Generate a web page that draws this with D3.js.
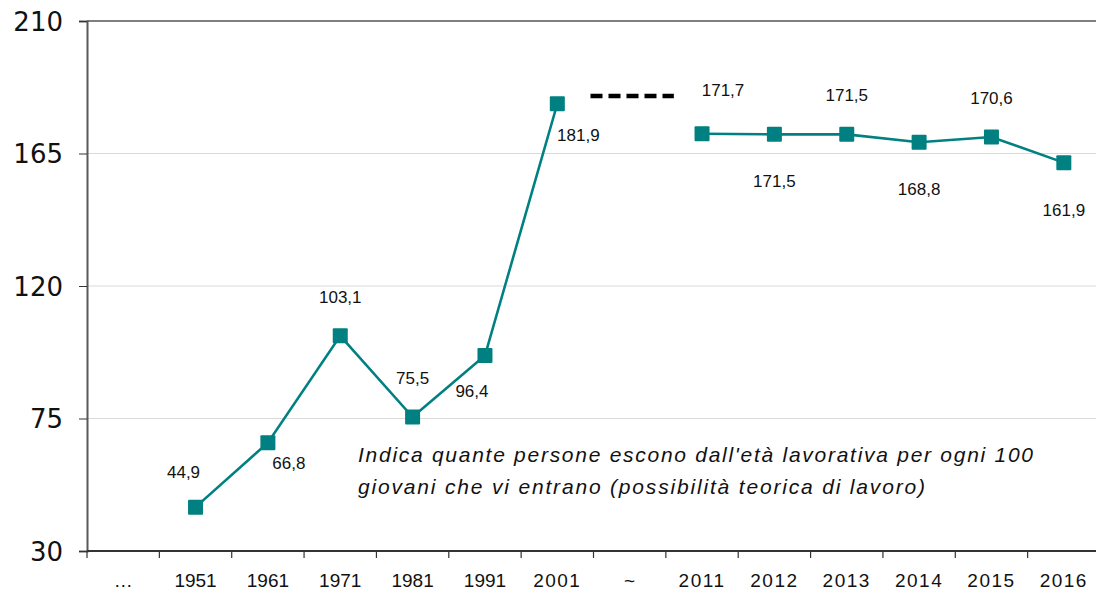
<!DOCTYPE html>
<html>
<head>
<meta charset="utf-8">
<script src="https://cdn.jsdelivr.net/npm/d3@7"></script>
<style>
  body { margin: 0; background: #fff; }
  svg { display: block; }
</style>
</head>
<body>
<div id="canvas"><svg width="1096" height="593"></svg></div>
<script>
// categories on the x axis ("…" and "~" are empty slots)
var categories = ["…", "1951", "1961", "1971", "1981", "1991", "2001", "~",
                  "2011", "2012", "2013", "2014", "2015", "2016"];
// first segment: census years
var censusYears = ["1951", "1961", "1971", "1981", "1991", "2001"];
var censusValues = [44.9, 66.8, 103.1, 75.5, 96.4, 181.9];
// second segment: yearly
var recentYears = ["2011", "2012", "2013", "2014", "2015", "2016"];
var recentValues = [171.7, 171.5, 171.5, 168.8, 170.6, 161.9];
// where each value label sits relative to its marker
var censusLabelPos = ["ul", "dr", "u", "u", "dl", "drl"];
var recentLabelPos = ["ur", "d", "u", "d", "u", "d"];
var yTicks = [30, 75, 120, 165, 210];
var breakLevel = 184.5; // dashed break mark between 2001 and 2011
var note = ["Indica quante persone escono dall'età lavorativa per ogni 100",
            "giovani che vi entrano (possibilità teorica di lavoro)"];

var svg = d3.select("#canvas svg"),
    pLeft = 87, pRight = 1100, pTop = 21, pBottom = 551,
    teal = "#008080";

var x = d3.scaleBand().domain(categories).range([pLeft, pRight]);
var y = d3.scaleLinear().domain([30, 210]).range([pBottom, pTop]);

// gridlines
svg.selectAll(".grid")
  .data(yTicks.filter(function (d) { return d > 30 && d < 210; }))
  .enter().append("line")
  .attr("x1", pLeft).attr("x2", 1096)
  .attr("y1", function (d) { return y(d); })
  .attr("y2", function (d) { return y(d); })
  .attr("stroke", "#d9d9d9").attr("stroke-width", 1.2);

// top border
svg.append("line")
  .attr("x1", pLeft).attr("x2", 1096)
  .attr("y1", y(210)).attr("y2", y(210))
  .attr("stroke", "#808080").attr("stroke-width", 2);

// y axis
var yAxis = svg.append("g")
  .attr("transform", "translate(" + pLeft + ",0)")
  .call(d3.axisLeft(y).tickValues(yTicks).tickSize(8).tickPadding(16));
yAxis.select(".domain").attr("stroke", "#595959").attr("stroke-width", 2);
yAxis.selectAll(".tick line").attr("stroke", "#333");
yAxis.selectAll("text")
  .attr("font-family", "'DejaVu Sans', Verdana, sans-serif")
  .attr("font-size", 26).attr("fill", "#111").attr("dy", "0.36em");

// x axis: ticks between categories
svg.append("line")
  .attr("x1", pLeft).attr("x2", 1096)
  .attr("y1", pBottom).attr("y2", pBottom)
  .attr("stroke", "#333").attr("stroke-width", 2);
svg.selectAll(".xtick")
  .data(categories)
  .enter().append("line")
  .attr("x1", function (d) { return x(d); })
  .attr("x2", function (d) { return x(d); })
  .attr("y1", pBottom).attr("y2", pBottom + 7)
  .attr("stroke", "#333").attr("stroke-width", 1.2);
svg.selectAll(".xlabel")
  .data(categories)
  .enter().append("text")
  .attr("x", function (d) { return x(d) + x.bandwidth() / 2; })
  .attr("y", 587)
  .attr("text-anchor", "middle")
  .attr("font-family", "'Liberation Sans', Arial, sans-serif")
  .attr("font-size", 19).attr("fill", "#111")
  .attr("letter-spacing", function (d) { return d.charAt(0) === "2" ? 1.5 : 0; })
  .text(function (d) { return d; });

// dashed break mark
svg.append("line")
  .attr("x1", x("~") - 3).attr("x2", x("~") + x.bandwidth() + 8)
  .attr("y1", y(breakLevel)).attr("y2", y(breakLevel))
  .attr("stroke", "#000").attr("stroke-width", 4.5)
  .attr("stroke-dasharray", "12,6");

var line = d3.line()
  .x(function (d) { return x(d.cat) + x.bandwidth() / 2; })
  .y(function (d) { return y(d.v); });

function drawSeries(cats, vals, pos) {
  var pts = cats.map(function (c, i) { return { cat: c, v: vals[i], pos: pos[i] }; });
  svg.append("path").datum(pts)
    .attr("d", line)
    .attr("fill", "none").attr("stroke", teal).attr("stroke-width", 2.6);
  svg.selectAll(null).data(pts).enter().append("rect")
    .attr("x", function (d) { return x(d.cat) + x.bandwidth() / 2 - 7.5; })
    .attr("y", function (d) { return y(d.v) - 7.5; })
    .attr("width", 15).attr("height", 15).attr("rx", 1)
    .attr("fill", teal);
  var off = {
    ul: [-12, -29], dr: [21, 26], drl: [21, 37], u: [0, -33], dl: [-13, 42],
    ur: [21, -38], d: [0, 53]
  };
  svg.selectAll(null).data(pts).enter().append("text")
    .attr("x", function (d) { return x(d.cat) + x.bandwidth() / 2 + off[d.pos][0]; })
    .attr("y", function (d) { return y(d.v) + off[d.pos][1]; })
    .attr("text-anchor", "middle")
    .attr("font-family", "'Liberation Sans', Arial, sans-serif")
    .attr("font-size", 17).attr("fill", "#111")
    .text(function (d) { return d3.format(".1f")(d.v).replace(".", ","); });
}
drawSeries(censusYears, censusValues, censusLabelPos);
drawSeries(recentYears, recentValues, recentLabelPos);

// note
var noteWidths = [675, 567];
svg.selectAll(".note")
  .data(note)
  .enter().append("text")
  .attr("x", 358)
  .attr("y", function (d, i) { return 462 + i * 32; })
  .attr("font-family", "'Liberation Sans', Arial, sans-serif")
  .attr("font-style", "italic")
  .attr("font-size", 21).attr("fill", "#111")
  .attr("textLength", function (d, i) { return noteWidths[i]; })
  .attr("lengthAdjust", "spacing")
  .text(function (d) { return d; });
</script>
</body>
</html>
